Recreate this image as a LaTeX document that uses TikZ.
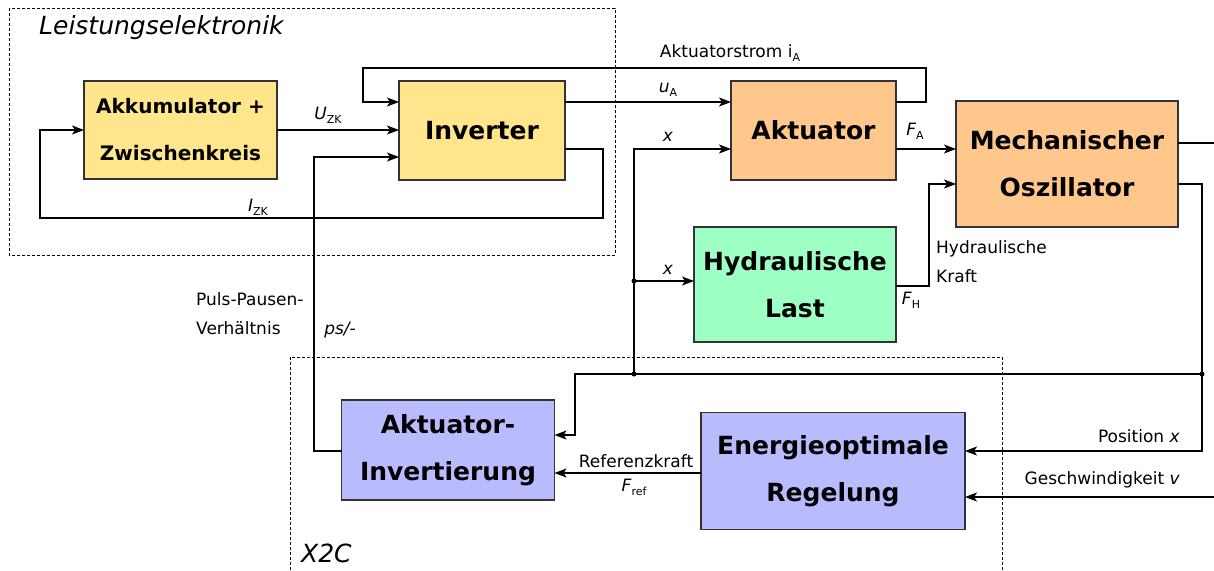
\documentclass[tikz,border=0pt]{standalone}
\usepackage{fontspec}
\setmainfont{DejaVu Sans}
\usetikzlibrary{arrows.meta}
\newcommand{\lsub}[1]{\raisebox{-0.25em}{\fontsize{11}{11}\selectfont #1}}
\begin{document}
\begin{tikzpicture}[x=1pt,y=-1pt,
  blk/.style={draw=black!80,line width=1.3pt,inner sep=0pt,outer sep=0pt,align=center,
     font=\fontsize{25}{47}\selectfont\bfseries},
  yel/.style={blk,fill=yellowfill},
  ora/.style={blk,fill=orangefill},
  grn/.style={blk,fill=greenfill},
  blu/.style={blk,fill=bluefill},
  grp/.style={draw,line width=0.7pt,dash pattern=on 3pt off 2pt},
  con/.style={line width=1.5pt},
  arr/.style={con,-{Stealth[length=12pt,width=9pt,inset=3pt]}},
  lab/.style={inner sep=0pt,font=\fontsize{17}{29}\selectfont},
  dot/.style={circle,fill,inner sep=0pt,minimum size=5pt}
]
\definecolor{yellowfill}{RGB}{255,230,140}
\definecolor{orangefill}{RGB}{255,199,140}
\definecolor{greenfill}{RGB}{157,255,196}
\definecolor{bluefill}{RGB}{186,186,255}
\useasboundingbox (0,0) rectangle (1214,570);

% groups
\draw[grp] (9,8) rectangle (615,255);
\node[lab,anchor=west,font=\fontsize{25}{25}\selectfont\itshape] (tle) at (39,28) {Leistungselektronik};
\draw[grp] (290,570) -- (290,357) -- (1002,357) -- (1002,570);
\node[lab,anchor=west,font=\fontsize{25}{25}\selectfont\itshape] (tx2c) at (301,553) {X2C};

% blocks
\node[yel,minimum width=193pt,minimum height=98pt,font=\fontsize{20}{47}\selectfont\bfseries] (akku) at (180.5,130) {Akkumulator +\\Zwischenkreis};
\node[yel,minimum width=166pt,minimum height=99pt] (inv) at (482,130.5) {Inverter};
\node[ora,minimum width=165pt,minimum height=99pt] (akt) at (813.5,130.5) {Aktuator};
\node[ora,minimum width=222pt,minimum height=126pt] (mech) at (1067,164) {Mechanischer\\Oszillator};
\node[grn,minimum width=202pt,minimum height=115pt] (hyd) at (795,284.5) {Hydraulische\\Last};
\node[blu,minimum width=213pt,minimum height=100pt] (ainv) at (448,450) {Aktuator-\\Invertierung};
\node[blu,minimum width=264pt,minimum height=117pt] (ener) at (833,471) {Energieoptimale\\Regelung};

% helper coordinates
\coordinate (y68) at (0,68);
\coordinate (y102) at (0,102);
\coordinate (y130) at (0,130);
\coordinate (y143) at (0,143);
\coordinate (y149) at (0,149);
\coordinate (y157) at (0,157);
\coordinate (y184) at (0,184);
\coordinate (y218) at (0,218);
\coordinate (y281) at (0,281);
\coordinate (y286) at (0,286);
\coordinate (y374) at (0,374);
\coordinate (y435) at (0,435);
\coordinate (y451) at (0,451);
\coordinate (y473) at (0,473);
\coordinate (y497) at (0,497);
\coordinate (x40) at (40,0);
\coordinate (x314) at (314,0);
\coordinate (x363) at (363,0);
\coordinate (x575) at (575,0);
\coordinate (x603) at (603,0);
\coordinate (x634) at (634,0);
\coordinate (x926) at (926,0);
\coordinate (x929) at (929,0);
\coordinate (x1202) at (1202,0);
\coordinate (edge143) at (1214,143);
\coordinate (edge497) at (1214,497);
\node[dot] (jhyd) at (634,281) {};
\node[dot] (jlow) at (634,374) {};
\node[dot] (jpos) at (1202,374) {};

% connectors
\draw[arr] (akku.east |- y130) -- (inv.west |- y130);
\draw[arr] (inv.east |- y149) -- (x603 |- y149) -- (x603 |- y218) -- (x40 |- y218) -- (x40 |- y130) -- (akku.west |- y130);
\draw[arr] (inv.east |- y102) -- (akt.west |- y102);
\draw[arr] (akt.east |- y102) -- (x926 |- y102) -- (x926 |- y68) -- (x363 |- y68) -- (x363 |- y102) -- (inv.west |- y102);
\draw[arr] (akt.east |- y149) -- (mech.west |- y149);
\draw[arr] (jlow.center) -- (x634 |- y149) -- (akt.west |- y149);
\draw[arr] (jhyd.center) -- (hyd.west |- y281);
\draw[arr] (hyd.east |- y286) -- (x929 |- y286) -- (x929 |- y184) -- (mech.west |- y184);
\draw[con] (mech.east |- y143) -- (edge143);
\draw[arr] (mech.east |- y184) -- (x1202 |- y184) -- (x1202 |- y451) -- (ener.east |- y451);
\draw[arr] (jpos.center) -- (x575 |- y374) -- (x575 |- y435) -- (ainv.east |- y435);
\draw[arr] (edge497) -- (ener.east |- y497);
\draw[arr] (ener.west |- y473) -- (ainv.east |- y473);
\draw[arr] (ainv.west |- y451) -- (x314 |- y451) -- (x314 |- y157) -- (inv.west |- y157);

% labels
\node[lab] (lu) at (328,115) {\textit{U}\lsub{ZK}};
\node[lab] (li) at (258,207) {\textit{I}\lsub{ZK}};
\node[lab] (lua) at (668,90) {\textit{u}\lsub{A}};
\node[lab] (lia) at (730,53) {Aktuatorstrom i\lsub{A}};
\node[lab] (lx1) at (668,137) {\textit{x}};
\node[lab] (lx2) at (668,270) {\textit{x}};
\node[lab] (lfa) at (915,131) {\textit{F}\lsub{A}};
\node[lab] (lfh) at (911,300) {\textit{F}\lsub{H}};
\node[lab,anchor=west,align=left] (lhk) at (936,261.5) {Hydraulische\\Kraft};
\node[lab,anchor=west,align=left] (lpp) at (196,313.5) {Puls-Pausen-\\Verhältnis};
\node[lab] (lps) at (340,330) {\textit{ps/-}};
\node[lab] (lref) at (636,461) {Referenzkraft};
\node[lab] (lfref) at (634,487) {\textit{F}\lsub{ref}};
\node[lab,anchor=east] (lpos) at (1180,436) {Position \textit{x}};
\node[lab,anchor=east] (lv) at (1180,480) {Geschwindigkeit \textit{v}};
\end{tikzpicture}
\end{document}
